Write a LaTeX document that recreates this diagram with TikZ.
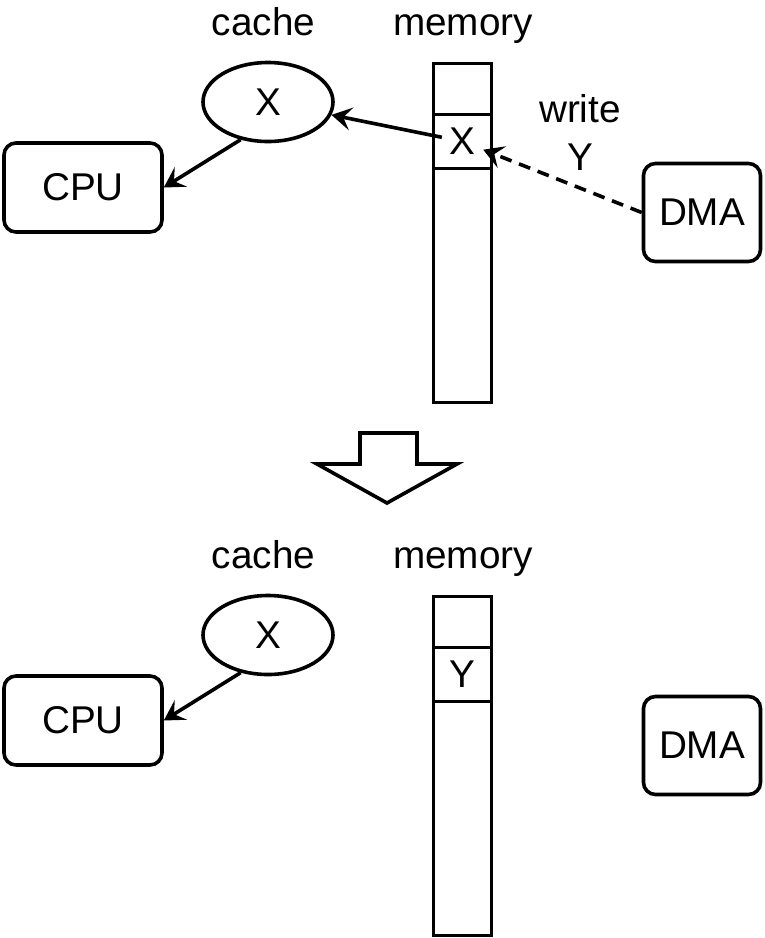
\documentclass[tikz,border=0pt]{standalone}
\usepackage{fontspec}
\setmainfont{Liberation Sans}
\usetikzlibrary{arrows.meta, shapes.geometric, positioning}

\begin{document}
\begin{tikzpicture}[
  x=1pt, y=-1pt,
  font=\fontsize{38.7}{48}\selectfont,
  line width=3.6pt,
  box/.style={rectangle, draw, rounded corners=12pt, align=center},
  cpubox/.style={box, minimum width=158pt, minimum height=89pt},
  dmabox/.style={box, minimum width=117pt, minimum height=98pt},
  cachenode/.style={ellipse, draw, minimum width=130pt, minimum height=79pt},
  cell/.style={rectangle, draw, outer sep=0pt, inner sep=0pt, minimum width=58pt},
  celltext/.style={inner sep=6pt},
  title/.style={anchor=base},
  arrow/.style={-{Stealth[length=20pt, width=23pt, inset=8pt]}},
  bigarrow/.style={draw, fill=white, line join=miter}
]
\useasboundingbox (0,0) rectangle (764,938);

% Before: DMA writes Y
\node[title] (cachelbl) at (263.5,35) {cache};
\node[title] (memlbl) at (463,35) {memory};
\node[cpubox] (cpu) at (83,187.5) {CPU};
\node[cachenode] (cache) at (268,102) {X};
\node[cell, minimum height=51pt] (top1) at (462.5,89) {};
\node[cell, minimum height=54pt, below=0pt of top1] (top2) {};
\node[cell, minimum height=234pt, below=0pt of top2] (top3) {};
\node[celltext] (memx) at (top2) {X};
\node[dmabox] (dma) at (702,212.5) {DMA};
\node[align=center] (writelbl) at (580,132) {write\\Y};

\draw[arrow] (memx) -- (cache);
\draw[arrow] (cache.234) -- (cpu.east);
\draw[arrow, dash pattern=on 12pt off 8pt] (dma.west) -- (memx);

% Big arrow
\draw[bigarrow] (360,433) -- (417,433) -- (417,464) -- (457,464) -- (387,503)
  -- (317,464) -- (360,464) -- cycle;

% After: cache still holds X
\begin{scope}[shift={(0,533)}]
  \node[title] (cachelbl2) at (263.5,35) {cache};
  \node[title] (memlbl2) at (463,35) {memory};
  \node[cpubox] (cpu2) at (83,187.5) {CPU};
  \node[cachenode] (cache2) at (268,102) {X};
  \node[cell, minimum height=51pt] (bot1) at (462.5,89) {};
  \node[cell, minimum height=54pt, below=0pt of bot1] (bot2) {};
  \node[cell, minimum height=234pt, below=0pt of bot2] (bot3) {};
  \node[celltext] (memy) at (bot2) {Y};
  \node[dmabox] (dma2) at (702,212.5) {DMA};

  \draw[arrow] (cache2.234) -- (cpu2.east);
\end{scope}

\end{tikzpicture}
\end{document}
